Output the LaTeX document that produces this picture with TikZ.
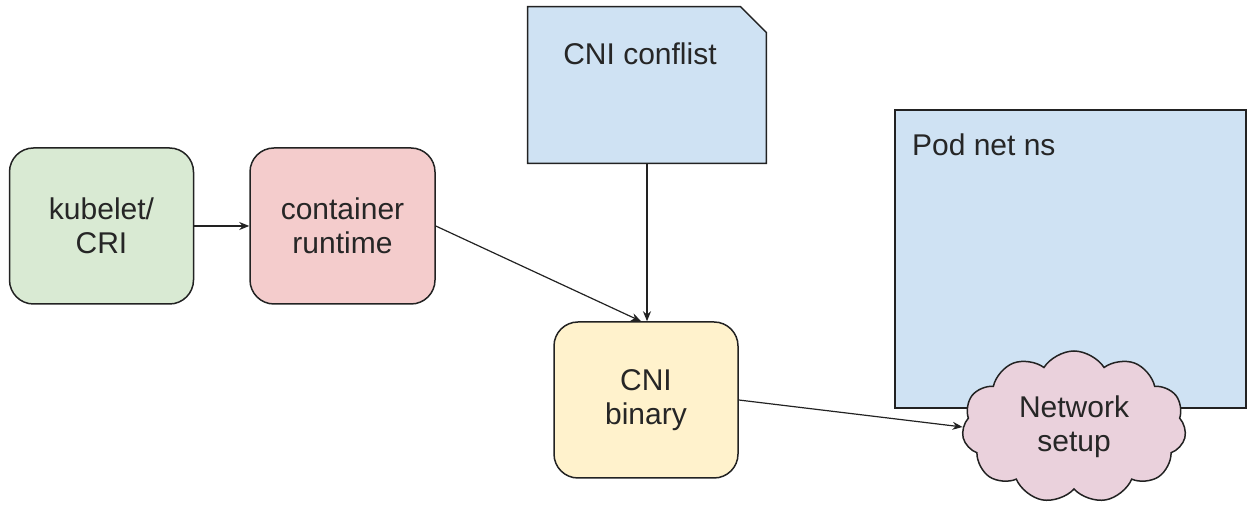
\documentclass[tikz,border=0pt]{standalone}
\usepackage{fontspec}
\setmainfont{Liberation Sans}
\usetikzlibrary{shapes.symbols,arrows.meta}
\definecolor{cgreen}{HTML}{D9EAD3}
\definecolor{cred}{HTML}{F4CCCC}
\definecolor{cblue}{HTML}{CFE2F3}
\definecolor{cyellow}{HTML}{FFF2CC}
\definecolor{cpink}{HTML}{EAD1DC}
\definecolor{cline}{HTML}{222222}
\begin{document}
\begin{tikzpicture}[x=0.5pt,y=-0.5pt,
  every node/.style={font=\fontsize{15pt}{17pt}\selectfont, text=black!85},
  rbox/.style={draw=cline, line width=0.75pt, rounded corners=12pt, minimum width=92pt, minimum height=78pt, align=center, inner sep=0pt},
  conn/.style={draw=cline, line width=0.6pt, -{Stealth[length=5pt,width=4pt]}}]
\useasboundingbox (0,0) rectangle (1247,506);
% Pod net ns
\node[draw=cline, fill=cblue, line width=0.75pt, minimum width=175.5pt, minimum height=149pt, inner sep=0pt] (pod) at (1070.5,259) {};
\node[anchor=west] (podlbl) at (905,145) {Pod net ns};
% CNI conflist
\node[minimum width=119pt, minimum height=78pt, inner sep=0pt] (conf) at (647,85) {};
\draw[draw=cline, fill=cblue, line width=0.75pt]
  (conf.south west) -- (conf.north west) -- ([xshift=-13pt]conf.north east) -- ([yshift=-13pt]conf.north east) -- (conf.south east) -- cycle;
\node (conflbl) at (640,54) {CNI conflist};
% boxes
\node[rbox, fill=cgreen] (kub) at (101.5,226) {kubelet/\\CRI};
\node[rbox, fill=cred, minimum width=92.5pt] (cr) at (342.5,226) {container\\runtime};
\node[rbox, fill=cyellow] (cnib) at (646,400) {CNI\\binary};
% cloud
\node[cloud, cloud puffs=11, cloud puff arc=115, aspect=1.5, draw=cline, fill=cpink, line width=0.75pt, minimum width=112pt, minimum height=76pt, align=center, inner sep=0pt] (net) at (1074,427) {Network\\setup};
% connectors
\draw[conn] (kub.east) -- (cr.west);
\draw[conn] (cr.east) -- ([xshift=-2.5pt]cnib.north);
\draw[conn] (conf.south) -- (conf.south |- cnib.north);
\draw[conn] (cnib.east) -- (net.west);
\end{tikzpicture}
\end{document}
